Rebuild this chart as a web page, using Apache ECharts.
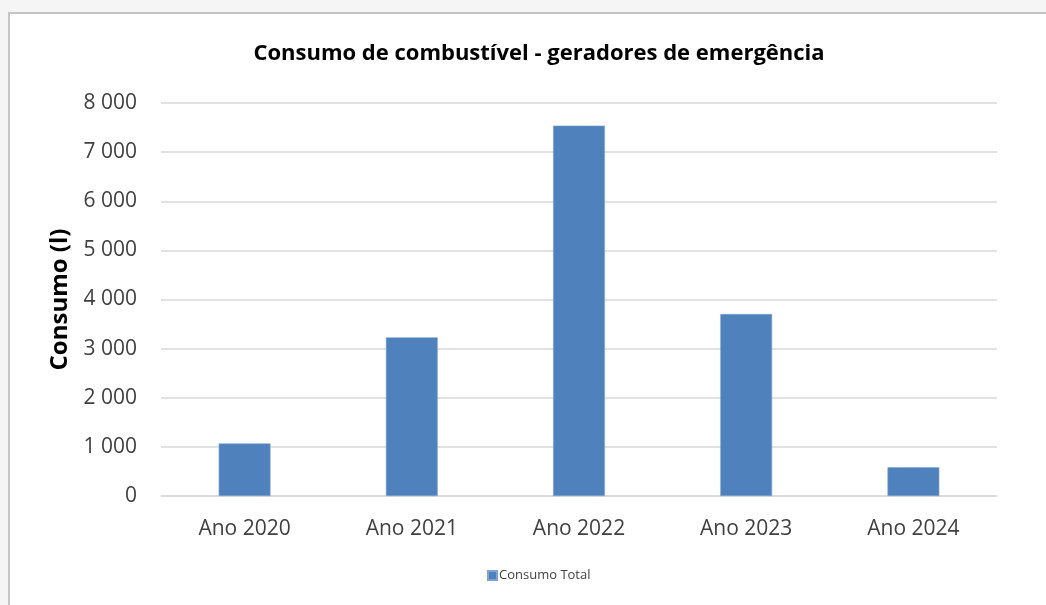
<!DOCTYPE html>
<html>
<head>
<meta charset="utf-8">
<script src="https://cdn.jsdelivr.net/npm/echarts@6/dist/echarts.min.js"></script>
<style>
  html, body { margin: 0; padding: 0; background: #f5f5f5; }
  #chart { width: 1046px; height: 605px; }
</style>
</head>
<body>
<div id="chart"></div>
<script>
// Annual fuel consumption of the emergency generators (litres)
const categories = ['Ano 2020', 'Ano 2021', 'Ano 2022', 'Ano 2023', 'Ano 2024'];
const consumoTotal = [1070, 3230, 7540, 3705, 585];
const yTicks = { min: 0, max: 8000, interval: 1000 };

const fontFamily = '"Open Sans", "Noto Sans", "Liberation Sans", sans-serif';

// "8 000" style thousands separator
function formatThousands(v) {
  return String(v).replace(/\B(?=(\d{3})+(?!\d))/g, ' ');
}

const chart = echarts.init(document.getElementById('chart'), null, { renderer: 'canvas' });

chart.setOption({
  backgroundColor: 'transparent',
  animation: false,
  graphic: [
    {
      type: 'rect',
      z: -10,
      silent: true,
      shape: { x: 9, y: 13, width: 1050, height: 600 },
      style: { fill: '#ffffff', stroke: '#c4c4c4', lineWidth: 2 }
    }
  ],
  title: {
    text: 'Consumo de combustível - geradores de emergência',
    left: 534,
    textAlign: 'center',
    top: 38,
    textStyle: { fontFamily, fontWeight: 'bold', fontSize: 22, color: '#000000' }
  },
  legend: {
    data: ['Consumo Total'],
    left: 482,
    top: 564,
    itemWidth: 9,
    itemHeight: 9,
    itemGap: 4,
    icon: 'rect',
    textStyle: { fontFamily, fontSize: 13, color: '#404040', padding: [0, 0, 0, -3] }
  },
  grid: { left: 161, right: 49, top: 103, bottom: 109, containLabel: false },
  xAxis: {
    type: 'category',
    data: categories,
    axisLine: { show: true, lineStyle: { color: '#d9d9d9', width: 1.5 } },
    axisTick: { show: false },
    axisLabel: { fontFamily, fontSize: 21, color: '#404040', margin: 23 }
  },
  yAxis: {
    type: 'value',
    min: yTicks.min,
    max: yTicks.max,
    interval: yTicks.interval,
    name: 'Consumo (l)',
    nameLocation: 'middle',
    nameGap: 84,
    nameRotate: 90,
    nameTextStyle: { fontFamily, fontWeight: 'bold', fontSize: 24, color: '#000000' },
    axisLine: { show: false },
    axisTick: { show: false },
    axisLabel: {
      fontFamily, fontSize: 21, color: '#404040', margin: 24,
      formatter: formatThousands
    },
    splitLine: { lineStyle: { color: '#d9d9d9', width: 1.5 } }
  },
  series: [
    {
      name: 'Consumo Total',
      type: 'bar',
      data: consumoTotal,
      barWidth: '31%',
      itemStyle: { color: '#4f81bd', borderColor: '#7fa3cf', borderWidth: 0.6 }
    }
  ]
});
</script>
</body>
</html>
